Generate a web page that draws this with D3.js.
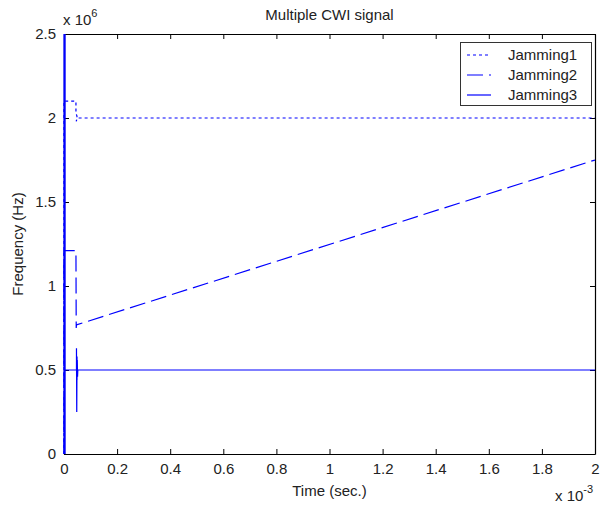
<!DOCTYPE html>
<html>
<head>
<meta charset="utf-8">
<script src="https://cdn.jsdelivr.net/npm/d3@7"></script>
<style>
  body { margin: 0; background: #fff; }
  text { font-family: "Liberation Sans", Arial, sans-serif; fill: #222; }
</style>
</head>
<body>
<script>
// Time in ms (axis scaled by 1e-3), frequency in MHz (axis scaled by 1e6)
const xTicks = [0, 0.2, 0.4, 0.6, 0.8, 1, 1.2, 1.4, 1.6, 1.8, 2];
const yTicks = [0, 0.5, 1, 1.5, 2, 2.5];
const seriesNames = ["Jamming1", "Jamming2", "Jamming3"];

// Jamming1: settles from 2.1 MHz to 2.0 MHz
const jam1T = [0, 0, 0.045, 0.045, 0.049, 0.046, 0.05, 2];
const jam1F = [0, 2.1, 2.1, 2.03, 2.01, 1.98, 2.0, 2.0];

// Jamming2: step to 1.21 MHz, drop to ~0.76 MHz, then linear sweep
const jam2T = [0, 0, 0.045, 0.046, 0.047, 0.05, 2];
const jam2F = [0, 1.21, 1.21, 0.75, 0.77, 0.77, 1.75];

// Jamming3: start-up spike, transient, then constant 0.5 MHz
const jam3T = [0, 0, 0.004, 0.004, 0.004, 0.045, 0.047, 0.047, 0.048, 0.049, 0.049, 0.05, 0.051, 0.052, 2];
const jam3F = [0, 2.6, 2.6, 0, 0.5, 0.5, 0.5, 0.63, 0.25, 0.58, 0.44, 0.56, 0.46, 0.5, 0.5];

const dashes = ["3,3", "16,6", null];

const W = 601, H = 506;
const margin = { left: 64, right: 6, top: 34, bottom: 52 };
const svg = d3.select("body").append("svg").attr("width", W).attr("height", H);

const x = d3.scaleLinear().domain([0, 2]).range([margin.left, W - margin.right]);
const y = d3.scaleLinear().domain([0, 2.5]).range([H - margin.bottom, margin.top]);

svg.append("clipPath").attr("id", "plotClip").append("rect")
  .attr("x", x(0) - 2).attr("y", y(2.5))
  .attr("width", x(2) - x(0) + 2).attr("height", y(0) - y(2.5));

// Axes with inward ticks on all four sides
const tickLen = 5;
const gx = svg.append("g").attr("transform", `translate(0,${y(0)})`)
  .call(d3.axisBottom(x).tickValues(xTicks).tickSizeInner(-tickLen).tickSizeOuter(0).tickPadding(9)
    .tickFormat(d3.format("~g")));
const gxTop = svg.append("g").attr("transform", `translate(0,${y(2.5)})`)
  .call(d3.axisTop(x).tickValues(xTicks).tickSizeInner(-tickLen).tickSizeOuter(0).tickFormat(""));
const gy = svg.append("g").attr("transform", `translate(${x(0)},0)`)
  .call(d3.axisLeft(y).tickValues(yTicks).tickSizeInner(-tickLen).tickSizeOuter(0).tickPadding(8)
    .tickFormat(d3.format("~g")));
const gyRight = svg.append("g").attr("transform", `translate(${x(2)},0)`)
  .call(d3.axisRight(y).tickValues(yTicks).tickSizeInner(-tickLen).tickSizeOuter(0).tickFormat(""));

[gx, gxTop, gy, gyRight].forEach(g => {
  g.selectAll("path.domain").attr("stroke", "#000").attr("stroke-width", 1.2);
  g.selectAll(".tick line").attr("stroke", "#000");
  g.selectAll(".tick text").attr("font-size", 15).attr("font-family", "Liberation Sans, Arial, sans-serif").attr("fill", "#222");
});

// Series
const series = [
  jam1T.map((t, i) => [t, jam1F[i]]),
  jam2T.map((t, i) => [t, jam2F[i]]),
  jam3T.map((t, i) => [t, jam3F[i]])
];
const line = d3.line().x(d => x(d[0])).y(d => y(d[1]));
const plot = svg.append("g").attr("clip-path", "url(#plotClip)");
series.forEach((s, i) => {
  plot.append("path").datum(s)
    .attr("d", line)
    .attr("fill", "none")
    .attr("stroke", "#0000ff")
    .attr("stroke-width", 1.2)
    .attr("stroke-dasharray", dashes[i]);
});

// Title and axis labels
svg.append("text").attr("x", (x(0) + x(2)) / 2).attr("y", 20)
  .attr("text-anchor", "middle").attr("font-size", 15).text("Multiple CWI signal");
svg.append("text").attr("x", (x(0) + x(2)) / 2).attr("y", 496)
  .attr("text-anchor", "middle").attr("font-size", 15).text("Time (sec.)");
svg.append("text").attr("transform", `translate(23,${(y(0) + y(2.5)) / 2}) rotate(-90)`)
  .attr("text-anchor", "middle").attr("font-size", 15).text("Frequency (Hz)");

// Exponent labels
const yExp = svg.append("text").attr("x", 63).attr("y", 25).attr("font-size", 15);
yExp.append("tspan").text("x 10");
yExp.append("tspan").attr("dy", -8).attr("font-size", 11).text("6");
const xExp = svg.append("text").attr("x", 555).attr("y", 501).attr("font-size", 15);
xExp.append("tspan").text("x 10");
xExp.append("tspan").attr("dy", -8).attr("font-size", 11).text("-3");

// Legend
const lg = svg.append("g");
lg.append("rect").attr("x", 460.5).attr("y", 42.5).attr("width", 131).attr("height", 63)
  .attr("fill", "#fff").attr("stroke", "#333").attr("stroke-width", 1);
seriesNames.forEach((name, i) => {
  const yy = 55 + i * 20;
  lg.append("line").attr("x1", 467).attr("x2", 491).attr("y1", yy).attr("y2", yy)
    .attr("stroke", "#0000ff").attr("stroke-width", 1.2).attr("stroke-dasharray", dashes[i]);
  lg.append("text").attr("x", 508).attr("y", yy + 5).attr("font-size", 15).text(name);
});
</script>
</body>
</html>
